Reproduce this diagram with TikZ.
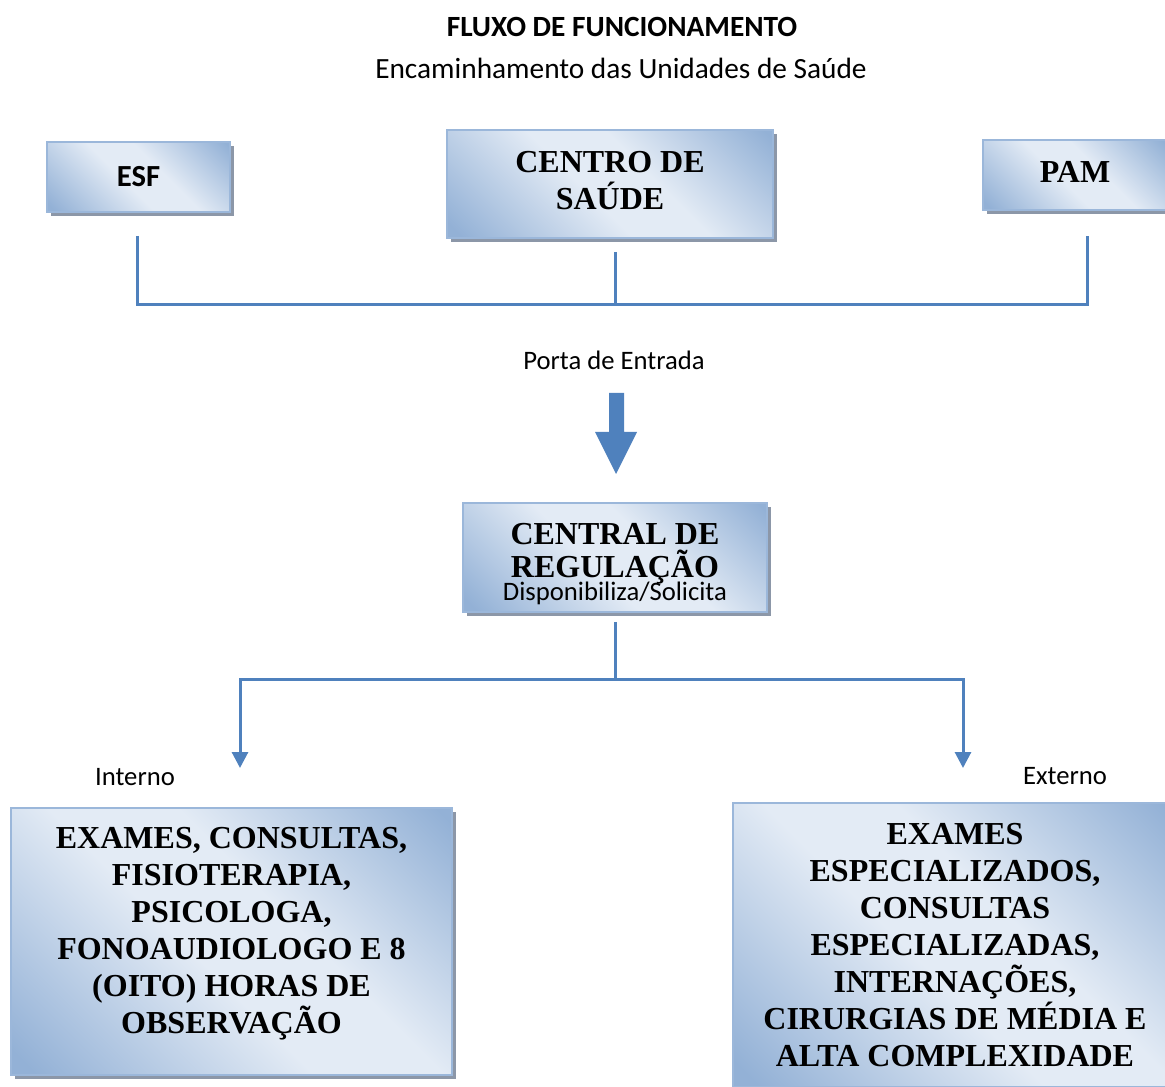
\documentclass[tikz,border=0pt]{standalone}
\usepackage{fontspec}
\setmainfont{Liberation Serif}
\newfontfamily\calibri{Carlito}
\usepackage{xcolor}
\usepackage{tikz}
\usetikzlibrary{arrows.meta,shadows,positioning,calc}

\definecolor{linkblue}{HTML}{4F81BD}
\definecolor{boxedge}{HTML}{9BB7DA}
\definecolor{boxdark}{HTML}{93B1D6}
\definecolor{boxlight}{HTML}{E3EBF5}
\definecolor{boxshadow}{HTML}{8C97A8}
\pgfdeclareverticalshading{caixa}{100bp}{color(0bp)=(boxdark); color(17bp)=(boxdark);
  color(45bp)=(boxlight); color(58bp)=(boxlight); color(84bp)=(boxdark); color(100bp)=(boxdark)}

\begin{document}
\begin{tikzpicture}[x=0.75pt,y=-0.75pt,
  box/.style={draw=boxedge,line width=1pt,shade,shading=caixa,shading angle=-45,
              drop shadow={shadow xshift=3pt,shadow yshift=-3pt,fill=boxshadow,opacity=1},
              align=center,inner sep=0pt,
              font=\fontsize{24}{27.75}\selectfont\bfseries},
  link/.style={draw=linkblue,line width=2.25pt},
  rotulo/.style={font=\calibri\fontsize{20}{24}\selectfont}]
  \useasboundingbox (0,0) rectangle (1165,1087);

  % titulo
  \node[font=\calibri\bfseries\fontsize{22}{26}\selectfont] (titulo) at (622,27) {FLUXO DE FUNCIONAMENTO};
  \node[font=\calibri\fontsize{22}{26}\selectfont] (subtitulo) at (621,68) {Encaminhamento das Unidades de Saúde};

  % unidades
  \node[box,minimum width=137.25pt,minimum height=52.5pt,
        font=\calibri\bfseries\fontsize{23}{26}\selectfont] (esf) at (138.5,177) {ESF};
  \node[box,minimum width=244.5pt,minimum height=81pt,text depth=6pt] (centro) at (610,184) {CENTRO DE\\SAÚDE};
  \node[box,minimum width=138pt,minimum height=52.5pt,text depth=4.5pt] (pam) at (1075,175) {PAM};

  \coordinate (esfout) at (137,236);
  \coordinate (centroout) at (615,252);
  \coordinate (pamout) at (1087,236);
  \coordinate (juncao) at (615,305);
  \draw[link] (esfout) |- (juncao) -| (pamout);
  \draw[link] (centroout) -- (juncao);

  \node[rotulo] (porta) at (614,360) {Porta de Entrada};
  \fill[linkblue] (609,393) -- (624,393) -- (624,432) -- (637,432) -- (616,474)
    -- (595,432) -- (609,432) -- cycle;

  % regulacao
  \node[box,minimum width=228pt,minimum height=81.75pt,text height=67pt,
        font=\fontsize{24}{24.75}\selectfont\bfseries] (central) at (615,557.5)
    {CENTRAL DE\\REGULAÇÃO\\[-7.5pt]{\calibri\mdseries\fontsize{20}{24}\selectfont Disponibiliza/Solicita}};

  \coordinate (regout) at (615,622);
  \coordinate (ramo) at (615,679);
  \coordinate (intin) at (240,768);
  \coordinate (extin) at (963,768);
  \draw[link] (regout) -- (ramo);
  \draw[link,-{Triangle[width=12pt,length=12pt]}] (ramo) -| (intin);
  \draw[link,-{Triangle[width=12pt,length=12pt]}] (ramo) -| (extin);

  \node[rotulo] (interno) at (135,777) {Interno};
  \node[rotulo] (externo) at (1065,776) {Externo};

  % destinos
  \node[box,minimum width=330.75pt,minimum height=200.25pt,text depth=17pt] (exint) at (231.5,941.5)
    {EXAMES, CONSULTAS,\\FISIOTERAPIA,\\PSICOLOGA,\\FONOAUDIOLOGO E 8\\(OITO) HORAS DE\\OBSERVAÇÃO};
  \node[box,minimum width=333pt,minimum height=213pt] (exext) at (955,945)
    {EXAMES\\ESPECIALIZADOS,\\CONSULTAS\\ESPECIALIZADAS,\\INTERNAÇÕES,\\CIRURGIAS DE MÉDIA E\\ALTA COMPLEXIDADE};
\end{tikzpicture}
\end{document}
